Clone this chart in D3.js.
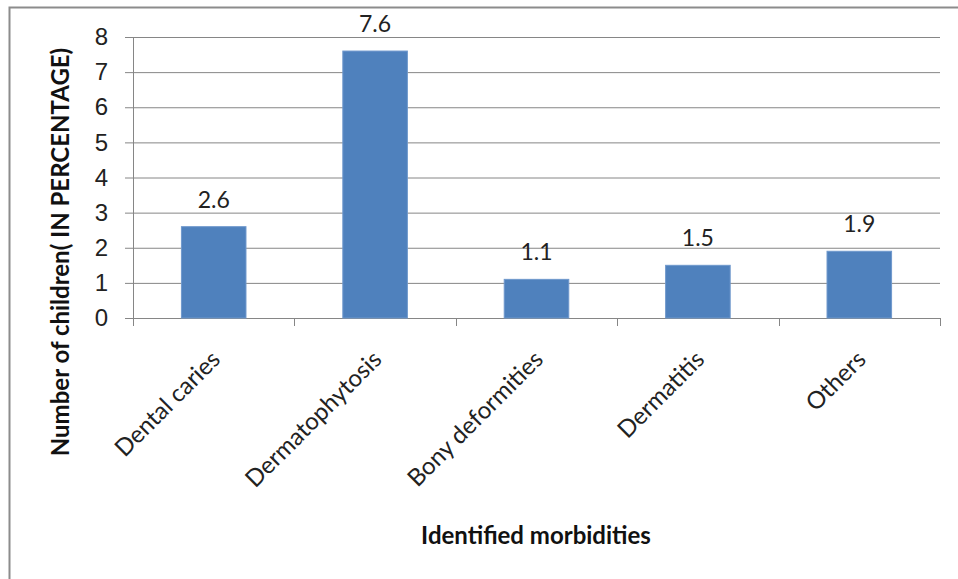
<!DOCTYPE html>
<html>
<head>
<meta charset="utf-8">
<script src="https://cdn.jsdelivr.net/npm/d3@7"></script>
<style>
  body { margin: 0; background: #fff; }
  svg { display: block; font-family: Lato, "Open Sans", sans-serif; }
</style>
</head>
<body>
<svg id="chart" width="958" height="579"></svg>
<script>
// Data
const categories = ["Dental caries", "Dermatophytosis", "Bony deformities", "Dermatitis", "Others"];
const values = [2.6, 7.6, 1.1, 1.5, 1.9];
const yTicks = [0, 1, 2, 3, 4, 5, 6, 7, 8];

const svg = d3.select("#chart");
const margin = { top: 37, right: 18, bottom: 261, left: 133 };
const width = +svg.attr("width") - margin.left - margin.right;
const height = +svg.attr("height") - margin.top - margin.bottom;

// Outer frame (only top and left edges visible in the crop)
svg.append("rect")
    .attr("x", 9.5)
    .attr("y", 7.5)
    .attr("width", 1000)
    .attr("height", 1000)
    .attr("fill", "none")
    .attr("stroke", "#8c8c8c")
    .attr("stroke-width", 2);

const g = svg.append("g").attr("transform", `translate(${margin.left},${margin.top})`);

const x = d3.scaleBand().domain(categories).range([0, width]).padding(0);
const y = d3.scaleLinear().domain([0, 8]).range([height, 0]);

// Gridlines + y axis
const yAxis = g.append("g")
    .call(d3.axisLeft(y).tickValues(yTicks).tickSize(8).tickFormat(d3.format("d")));
yAxis.select(".domain").attr("stroke", "#868686");
yAxis.selectAll(".tick line").attr("stroke", "#868686");
yAxis.selectAll(".tick text")
    .attr("x", -25)
    .attr("fill", "#222")
    .style("font-size", "24px");

g.append("g")
    .selectAll("line")
    .data(yTicks.filter(d => d > 0))
    .join("line")
    .attr("x1", 0)
    .attr("x2", width)
    .attr("y1", d => y(d) + 0.5)
    .attr("y2", d => y(d) + 0.5)
    .attr("stroke", "#868686");

// x axis with boundary ticks
const xg = g.append("g").attr("transform", `translate(0,${height})`);
xg.append("line")
    .attr("x1", 0).attr("x2", width)
    .attr("y1", 0.5).attr("y2", 0.5)
    .attr("stroke", "#868686");
xg.selectAll(".xtick")
    .data(d3.range(categories.length + 1))
    .join("line")
    .attr("class", "xtick")
    .attr("x1", i => Math.round(i * x.step()) + 0.5)
    .attr("x2", i => Math.round(i * x.step()) + 0.5)
    .attr("y1", 0)
    .attr("y2", 8)
    .attr("stroke", "#868686");

// Bars
const barW = x.bandwidth() * 0.4;
g.selectAll(".bar")
    .data(values)
    .join("rect")
    .attr("class", "bar")
    .attr("x", (d, i) => x(categories[i]) + (x.bandwidth() - barW) / 2)
    .attr("y", d => y(d))
    .attr("width", barW)
    .attr("height", d => height - y(d))
    .attr("fill", "#4f81bd")
    .attr("stroke", "#6f98cc")
    .attr("stroke-width", 1);

// Value labels
g.selectAll(".val")
    .data(values)
    .join("text")
    .attr("class", "val")
    .attr("x", (d, i) => x(categories[i]) + x.bandwidth() / 2)
    .attr("y", d => y(d) - 19)
    .attr("text-anchor", "middle")
    .attr("fill", "#222")
    .style("font-size", "23px")
    .text(d => d);

// Category labels
g.selectAll(".cat")
    .data(categories)
    .join("text")
    .attr("class", "cat")
    .attr("text-anchor", "end")
    .attr("transform", d => `translate(${x(d) + x.bandwidth() / 2 + 8},${height + 43}) rotate(-45)`)
    .attr("fill", "#222")
    .style("font-size", "24px")
    .text(d => d);

// Axis titles
svg.append("text")
    .attr("x", 536)
    .attr("y", 544)
    .attr("text-anchor", "middle")
    .attr("fill", "#111")
    .style("font-size", "24px")
    .style("font-weight", "bold")
    .text("Identified morbidities");

svg.append("text")
    .attr("transform", "translate(69,252) rotate(-90)")
    .attr("text-anchor", "middle")
    .attr("fill", "#111")
    .style("font-size", "24px")
    .style("font-weight", "bold")
    .text("Number of children( IN PERCENTAGE)");
</script>
</body>
</html>
